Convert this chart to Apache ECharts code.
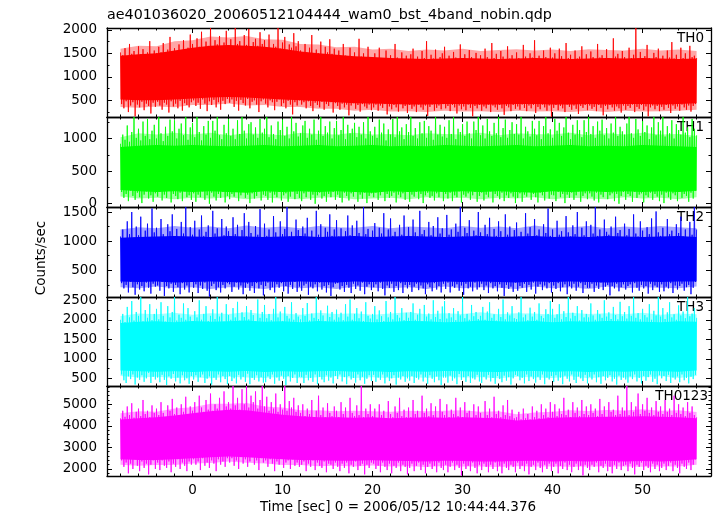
<!DOCTYPE html>
<html><head><meta charset="utf-8">
<script src="https://cdn.jsdelivr.net/npm/echarts@6/dist/echarts.min.js"></script>
<style>html,body{margin:0;padding:0;background:#fff}#c{width:717px;height:516px}</style>
</head><body><div id="c"></div>
<script>
// samples: upper/lower excursions every 0.25 s from -8 s; dense core and fringe envelopes every 2 s
const T_START = -8, SPIKE_STEP = 0.25, CORE_STEP = 2;

const th0Hi = [
1520,1460,1610,1430,1700,1490,1550,1440,1650,1480,1590,1420,1520,1760,1470,1560,
1500,1640,1520,1720,1480,1580,1850,1530,1610,1500,1690,1560,1780,1520,1620,1900,
1700,1590,1820,1640,1960,1610,1750,1660,2040,1620,1780,1690,1870,1600,1730,1980,
1650,1800,1630,2040,1700,1760,1640,1890,1680,2020,1620,1740,1810,1660,1950,1700,
1780,1620,1900,1590,1700,1640,2040,1600,1730,1850,1580,1690,1620,1930,1650,1760,
1560,1480,1700,1510,1620,1890,1470,1580,1500,1750,1460,1640,1520,1800,1490,1600,
1420,1560,1380,1700,1450,1390,1620,1400,1520,1360,1810,1430,1500,1380,1640,1420,
1380,1500,1350,1620,1400,1340,1560,1390,1460,1330,1700,1410,1360,1520,1380,1450,
1350,1480,1600,1370,1430,1340,1550,1400,1760,1360,1470,1390,1580,1350,1420,1500,
1640,1380,1450,1340,1530,1410,1360,1690,1400,1480,1350,1570,1420,1380,1510,1370,
1460,1350,1600,1420,1380,1720,1400,1490,1360,1550,1430,1370,1650,1390,1460,1340,
1520,1400,1380,1680,1430,1360,1500,1410,1780,1380,1450,1350,1560,1420,1390,1620,
1410,1500,1370,1600,1440,1360,1720,1400,1470,1350,1560,1390,1430,1650,1380,1480,
1360,1540,1420,1380,1700,1410,1460,1350,1590,1400,1380,1820,1430,1490,1370,1550,
1420,1380,1620,1400,1470,2040,1390,1530,1360,1440,1680,1400,1370,1510,1420,1600,
1380,1450,1360,1560,1410,1740,1390,1470,1350,1620,1400,1500,1380,1660,1420,1450,
1400];
const th0Lo = [
420,330,480,250,390,460,160,410,350,470,290,430,380,220,450,360,
470,390,300,450,410,240,480,370,430,330,490,280,440,400,350,460,
500,380,450,320,520,430,270,480,400,510,350,460,300,490,420,530,
450,520,360,490,280,510,440,390,530,330,470,500,410,250,480,520,
430,350,500,460,290,470,520,380,440,330,490,410,200,460,390,500,
410,460,330,480,380,270,450,400,350,470,300,420,380,460,240,440,
380,300,430,350,410,180,390,440,320,400,260,420,370,330,410,290,
350,410,280,390,340,420,200,370,310,400,350,260,420,330,380,230,
400,320,370,250,410,350,300,390,170,360,410,280,340,390,310,420,
330,380,270,400,350,220,390,310,370,290,410,340,160,380,330,400,
280,370,330,410,250,390,350,300,400,330,190,380,350,270,400,320,
370,300,410,340,270,390,330,400,230,360,310,410,350,280,390,150,
340,400,290,380,330,250,410,360,300,390,320,210,380,340,400,290,
390,320,360,270,400,340,180,380,310,400,350,280,370,330,240,390,
300,380,340,410,250,360,320,400,290,370,160,350,390,310,380,270,
360,300,400,340,230,390,320,370,280,410,350,300,390,260,380,420,
450];
const th0CoreHi = [1450,1480,1500,1560,1620,1660,1680,1660,1640,1600,1540,1500,1470,1440,1420,1400,1390,1380,1390,1400,1390,1380,1390,1400,1390,1380,1390,1400,1390,1400,1390,1380,1390];
const th0CoreLo = [520,500,500,520,540,560,570,560,540,520,500,480,460,440,430,420,410,410,420,420,410,410,420,420,410,410,420,410,420,420,410,420,440];
const th0FringeHi = [1600,1660,1650,1760,1780,1860,1840,1870,1800,1790,1700,1690,1630,1640,1580,1600,1550,1580,1560,1600,1550,1570,1590,1560,1580,1550,1590,1570,1560,1600,1560,1580,1550];
const th0FringeLo = [360,340,370,350,400,400,430,390,400,360,360,320,320,280,300,260,270,250,280,260,270,250,280,260,270,250,280,250,280,260,270,280,300];

const th1Hi = [
920,1060,980,1200,950,1100,1330,1010,1150,970,1260,1040,1300,990,1120,1210,
1000,1330,1080,960,1180,1040,1290,1110,1280,1000,1150,1230,1050,1330,980,1170,
1240,1020,1330,1100,970,1190,1060,1270,1010,1270,1120,1330,1050,990,1210,1080,
1300,1040,1150,990,1280,1070,1330,1120,1000,1220,1250,1060,1170,1010,1300,1090,
1150,1330,1020,1200,1070,990,1260,1130,1290,1040,1180,1000,1330,1110,1240,1030,
1080,1200,1270,1010,1150,1060,1290,980,1120,1330,1040,1190,1090,1260,1000,1160,
1270,1050,1130,1330,990,1210,1080,1150,1240,1020,1180,1060,1250,1000,1330,1110,
1040,1180,1010,1290,1090,1230,970,1140,1060,1300,1020,1330,1110,1170,990,1220,
1100,1330,1040,1160,1000,1250,1080,1270,1010,1190,1120,980,1330,1060,1210,1030,
1180,1010,1280,1070,1330,990,1150,1100,1220,1040,1260,1080,1000,1260,1130,1330,
1050,1200,1000,1300,1110,1040,1240,1080,1330,1020,1160,1290,1010,1130,1250,1070,
1220,1060,1330,1000,1180,1110,1030,1270,1150,1050,1270,990,1190,1330,1080,1140,
1010,1300,1120,1240,1040,1170,1330,1090,990,1210,1060,1280,1130,1020,1280,1100,
1330,1070,1190,1010,1260,1120,1290,1050,1160,1000,1230,1090,1330,1040,1180,1110,
1060,1230,1330,1080,1010,1300,1140,1040,1270,1100,1200,990,1170,1330,1050,1250,
1120,1330,1030,1190,1080,1280,1000,1220,1130,1060,1330,1090,1170,1020,1300,1150,
1050];
const th1Lo = [
180,90,150,40,200,120,60,170,100,10,140,190,80,130,30,160,
110,180,50,140,90,200,20,150,120,70,170,40,190,100,130,60,
160,30,140,100,190,60,130,0,170,110,50,150,90,180,20,120,
70,150,110,180,40,130,200,90,140,10,160,80,120,190,50,140,
120,60,170,20,140,100,180,50,130,160,30,110,190,70,150,90,
40,160,100,190,60,140,0,130,170,80,120,30,150,100,180,60,
140,90,20,170,120,50,160,110,190,30,140,80,170,10,120,160,
100,170,60,130,190,40,150,90,120,170,20,140,100,160,60,180,
30,140,110,180,70,150,10,130,170,90,120,50,160,100,190,40,
150,80,170,40,130,100,190,20,140,110,160,60,130,180,30,120,
170,50,140,100,190,20,150,120,70,170,40,130,90,160,110,10,
90,160,30,140,110,180,60,150,100,20,170,130,50,190,80,140,
130,40,180,100,150,10,140,90,170,60,130,190,30,120,160,70,
160,110,50,170,20,140,100,190,70,130,160,40,150,0,120,180,
60,150,120,30,180,90,140,160,20,130,100,170,60,150,110,40,
140,10,170,100,60,160,130,40,190,90,150,120,30,170,80,200,
200];
const th1CoreHi = [870,890,900,890,900,890,880,890,900,880,890,900,880,890,900,880,890,880,900,890,880,890,900,880,890,900,880,890,880,900,890,880,870];
const th1CoreLo = [210,190,180,190,180,190,180,170,190,180,190,180,190,180,170,190,180,190,180,190,180,190,180,170,190,180,190,180,190,180,190,180,200];
const th1FringeHi = [1020,1080,1060,1090,1060,1090,1050,1080,1070,1050,1090,1070,1060,1090,1060,1070,1050,1080,1070,1060,1090,1050,1080,1070,1060,1090,1050,1080,1060,1090,1060,1070,1040];
const th1FringeLo = [110,80,90,70,90,80,100,70,90,80,70,90,100,70,80,90,70,100,80,90,70,90,80,100,70,90,80,70,100,80,90,70,100];

const th2Hi = [
1080,1200,1050,1340,1120,1500,1060,1250,1100,1420,1040,1180,1300,1070,1560,1150,
1230,1060,1380,1120,1040,1290,1170,1460,1080,1210,1050,1330,1130,1586,1070,1240,
1110,1350,1050,1200,1440,1090,1160,1270,1040,1520,1130,1220,1060,1380,1100,1250,
1170,1060,1410,1120,1280,1050,1190,1480,1080,1330,1140,1040,1260,1110,1550,1070,
1300,1090,1200,1050,1430,1150,1060,1340,1120,1210,1586,1080,1160,1040,1370,1190,
1050,1250,1130,1400,1070,1180,1060,1520,1110,1290,1040,1230,1160,1460,1090,1200,
1360,1080,1220,1050,1170,1440,1100,1270,1060,1350,1140,1040,1586,1120,1210,1070,
1180,1310,1060,1230,1130,1480,1050,1200,1390,1090,1160,1040,1280,1110,1440,1070,
1240,1050,1370,1150,1080,1520,1120,1190,1060,1330,1100,1260,1040,1410,1130,1220,
1070,1450,1110,1200,1050,1300,1160,1586,1080,1230,1140,1360,1060,1180,1100,1500,
1150,1060,1280,1120,1400,1050,1210,1090,1340,1170,1040,1460,1110,1250,1070,1190,
1320,1080,1160,1050,1480,1130,1240,1060,1380,1100,1200,1050,1290,1140,1560,1090,
1200,1050,1350,1110,1170,1060,1430,1150,1080,1270,1120,1500,1040,1230,1100,1340,
1060,1280,1130,1586,1090,1200,1050,1370,1160,1110,1250,1070,1420,1140,1190,1050,
1300,1100,1210,1060,1460,1130,1080,1340,1180,1050,1240,1120,1390,1070,1510,1150,
1090,1230,1060,1380,1120,1180,1050,1290,1140,1420,1080,1200,1060,1330,1110,1586,
1200];
const th2Lo = [
280,190,250,120,300,210,80,260,170,230,140,290,200,100,270,220,
240,150,300,60,230,190,270,130,250,210,90,280,170,240,120,300,
200,260,110,240,180,290,150,50,230,270,160,210,120,250,190,280,
260,130,220,290,170,240,90,200,270,150,230,110,280,190,250,70,
230,290,160,210,120,260,200,280,140,230,100,250,180,300,130,220,
150,240,270,80,220,190,260,140,290,170,230,120,250,60,210,270,
280,170,230,130,250,200,110,270,180,240,150,290,90,220,260,160,
210,260,140,290,180,70,240,200,270,130,230,160,280,110,250,190,
250,130,220,270,160,240,190,90,260,210,140,280,170,230,120,270,
180,290,120,230,200,260,150,240,80,270,190,220,140,290,170,210,
270,160,240,110,280,190,230,140,260,200,60,250,180,220,130,290,
150,230,200,270,130,250,170,290,100,220,260,160,240,190,280,120,
240,180,280,140,210,260,90,230,190,270,150,220,280,110,250,200,
200,270,130,240,180,290,160,220,250,70,230,190,270,140,210,260,
170,230,260,120,280,200,150,250,190,230,100,270,160,240,210,130,
260,140,220,190,280,110,240,170,230,270,150,210,250,90,200,300,
280];
const th2CoreHi = [1060,1070,1080,1090,1080,1070,1090,1080,1070,1080,1090,1070,1080,1090,1070,1080,1090,1080,1070,1080,1090,1070,1080,1090,1070,1080,1070,1090,1080,1070,1080,1090,1070];
const th2CoreLo = [310,300,310,290,300,310,300,290,310,300,310,300,290,310,300,310,300,290,310,300,310,300,290,310,300,310,300,290,300,310,300,310,310];
const th2FringeHi = [1200,1240,1220,1260,1230,1250,1220,1270,1230,1250,1220,1260,1240,1230,1260,1220,1250,1240,1220,1260,1230,1250,1220,1270,1230,1240,1260,1220,1250,1230,1260,1240,1220];
const th2FringeLo = [210,190,220,190,210,180,210,200,180,220,190,210,180,220,200,190,210,180,220,190,210,200,180,220,190,210,180,220,190,210,200,190,220];

const th3Hi = [
2000,2150,1940,2330,2060,2480,1980,2200,2100,2584,1960,2250,2050,2400,1990,2150,
2280,2010,2450,2100,1950,2350,2060,2200,2584,1980,2130,2050,2420,2000,2300,2080,
1960,2220,2060,2500,2000,2150,2350,1970,2100,2270,2020,2584,2080,2180,1950,2400,
2120,2000,2300,2060,2460,1980,2190,2070,2350,2010,2250,2120,1960,2520,2050,2200,
2380,2040,2150,1990,2280,2584,2060,2210,1970,2330,2100,2030,2450,2000,2170,2080,
2010,2300,2100,2430,1980,2160,2050,2584,2020,2240,2110,1960,2360,2070,2200,2000,
2260,2060,2180,1990,2400,2080,2520,2000,2150,2300,2040,2210,1970,2450,2100,2030,
2150,2350,2010,2240,2090,1970,2480,2060,2200,2010,2584,2120,2050,2300,1990,2180,
2050,2200,2420,2000,2130,2280,1960,2380,2080,2160,2010,2500,2070,2230,2020,2340,
2480,2030,2170,2060,2300,1990,2220,2110,2584,2040,2150,2000,2380,2090,2200,2020,
2100,2330,2000,2210,2450,2050,2140,1980,2280,2070,2520,2010,2190,2110,2350,2040,
2020,2190,2584,2060,2130,1990,2310,2080,2200,2000,2420,2100,2040,2270,2150,2480,
2280,2050,2140,2400,2010,2220,2070,2584,2030,2180,2100,2350,1980,2250,2060,2150,
2060,2420,2110,2000,2250,2140,2050,2500,2080,2190,2020,2330,2120,2010,2460,2090,
2200,2030,2350,2100,2584,2050,2170,2010,2280,2120,2060,2400,2000,2230,2110,2584,
2080,2300,2020,2190,2450,2060,2140,2000,2370,2110,2210,2040,2584,2090,2160,2300,
2050];
const th3Lo = [
600,450,380,550,480,600,340,520,460,580,410,500,640,380,540,470,
520,400,590,460,330,550,490,610,420,520,370,580,450,500,360,560,
470,580,410,530,600,380,490,550,340,520,460,600,400,560,480,350,
560,430,500,370,590,470,540,410,620,350,510,460,580,420,530,390,
400,550,480,600,360,520,440,570,490,330,560,420,510,600,380,540,
530,380,590,450,510,410,600,350,540,470,400,580,440,520,370,560,
480,600,420,530,350,560,470,510,390,600,450,540,360,490,580,430,
590,410,520,460,600,370,540,430,500,580,340,520,470,560,410,500,
440,560,380,510,470,600,420,540,360,580,490,400,550,450,330,520,
520,390,570,440,500,350,610,460,530,410,560,380,500,470,590,420,
380,540,470,590,420,510,360,560,480,400,570,440,530,340,500,590,
560,450,510,370,600,430,550,480,390,540,460,600,350,520,470,560,
410,580,440,520,350,570,490,420,600,460,380,550,500,430,590,370,
540,470,600,400,530,360,560,450,510,580,420,490,340,570,460,520,
470,390,550,480,600,420,510,370,560,440,530,600,410,490,350,580,
500,560,430,590,380,520,470,550,400,600,450,510,370,540,480,590,
620];
const th3CoreHi = [1920,1950,1960,1940,1970,1950,1960,1980,1950,1960,1940,1970,1950,1960,1940,1950,1970,1960,1940,1950,1980,1960,1950,1970,1940,1960,1950,1970,1960,1950,1940,1960,1950];
const th3CoreLo = [700,680,670,680,660,680,670,690,660,680,670,680,690,670,680,660,680,670,690,680,670,660,680,690,670,680,660,680,670,690,680,670,700];
const th3FringeHi = [2100,2160,2140,2180,2130,2170,2150,2190,2140,2170,2130,2180,2150,2170,2130,2160,2190,2140,2170,2150,2190,2140,2170,2160,2130,2180,2150,2170,2140,2180,2130,2160,2140];
const th3FringeLo = [560,520,540,510,530,500,540,520,510,540,500,530,550,510,530,500,540,510,550,520,530,500,540,520,510,550,500,540,520,530,550,510,560];

const th0123Hi = [
4350,4700,4420,4900,4500,5050,4380,4650,4800,4450,5200,4550,4700,4400,4950,4600,
4800,4500,5100,4600,4400,4950,4700,5250,4550,4850,4450,5000,4650,5350,4500,4900,
4700,5100,4600,5400,4850,4650,5200,4750,5500,4700,5000,4800,5300,4650,5600,4900,
5100,4800,5849,4950,5300,4750,5700,5000,5849,4850,5400,5100,5600,4800,5200,5849,
4900,5350,4700,5100,4800,5500,4650,5000,4750,5849,4700,5150,4850,5300,4650,4950,
4600,5000,4450,4800,4550,5200,4400,4700,5400,4500,4850,4400,5050,4600,4450,4900,
4700,4400,5100,4550,4850,4350,5300,4600,4450,4950,4500,5849,4400,4800,4550,5000,
4450,4800,4350,5000,4500,4700,4300,5150,4550,4400,4900,4600,5300,4450,4750,4400,
4850,4400,5200,4550,4700,4350,5400,4600,4800,4450,5050,4500,4900,4350,5250,4650,
4500,5000,4400,4750,4550,5300,4450,4850,4400,5100,4600,4700,4350,5000,4500,4900,
4600,4350,5150,4500,4800,4400,5350,4550,4700,4400,4950,4500,5200,4450,4750,4350,
4400,4650,4300,4800,4350,4550,4300,4900,4400,4700,4350,5000,4500,4800,4400,5100,
4650,5000,4450,4800,4550,5300,4500,4750,4400,5100,4600,4850,4450,5200,4550,4900,
4500,5000,4600,4800,4450,5250,4550,4900,4400,5100,4650,4750,4500,5400,4550,4850,
4700,5849,4500,5100,4650,4900,5500,4550,5000,4700,5300,4600,4850,4500,5150,4650,
4900,4550,5200,4650,4800,4500,5400,4600,5000,4550,4850,4450,5100,4600,4900,4500,
4400];
const th0123Lo = [
2400,2100,2300,1800,2250,2000,2450,2150,1900,2350,2050,2250,1750,2200,2400,2000,
2300,1950,2400,2150,2050,2350,1850,2250,2100,2450,2000,2300,2150,1900,2350,2200,
2450,2200,2350,1950,2500,2150,2300,2050,2400,2250,1900,2450,2200,2350,2100,2500,
2300,2500,2150,2400,2000,2550,2250,2450,2100,2350,2550,2200,2400,1950,2500,2300,
2400,2100,2450,2250,1900,2350,2200,2500,2050,2300,2400,2000,2450,2150,2300,2100,
2200,2350,1900,2250,2100,2400,1950,2300,2150,2050,2350,1850,2250,2200,2000,2300,
2100,1900,2250,2050,2300,1800,2200,2100,2350,1950,2150,2250,1750,2200,2050,2300,
2250,2000,2150,1850,2300,2100,1950,2250,1800,2150,2050,2300,1900,2200,2100,1750,
2050,2250,1900,2150,2300,1950,2200,1800,2100,2250,2000,2150,1850,2300,2050,1950,
2200,1850,2100,2300,1950,2200,2050,1700,2250,2000,2150,1900,2300,2050,1800,2200,
1950,2250,2100,1850,2200,2000,2300,1900,2150,1800,2250,2050,1950,2200,2100,1850,
2300,2000,2150,1900,2250,1750,2100,2200,1950,2300,2050,1850,2200,2000,2250,1900,
2100,2250,1800,2150,2000,2300,1950,2200,1850,2100,2250,1950,2150,1700,2200,2050,
1950,2200,2100,2300,1850,2150,2050,2250,1900,2100,1800,2200,2000,2300,1950,2150,
2200,1900,2250,2050,1750,2200,2100,2300,1950,2150,2050,1850,2250,2000,2200,1900,
2050,2250,1950,2150,2300,1900,2200,2050,1800,2250,2100,2000,2300,1950,2200,2450,
2500];
const th0123CoreHi = [4300,4350,4400,4480,4580,4680,4750,4720,4620,4520,4450,4400,4400,4380,4400,4350,4380,4400,4380,4400,4380,4350,4250,4300,4380,4400,4400,4420,4420,4450,4420,4400,4350];
const th0123CoreLo = [2450,2420,2420,2450,2500,2550,2580,2550,2500,2450,2420,2400,2380,2380,2400,2380,2370,2350,2380,2370,2350,2350,2370,2380,2350,2370,2350,2380,2350,2370,2350,2380,2450];
const th0123FringeHi = [4580,4680,4660,4800,4860,5020,5020,5060,4900,4850,4730,4720,4680,4700,4680,4660,4700,4680,4700,4720,4660,4680,4540,4620,4660,4720,4690,4740,4710,4770,4700,4720,4640];
const th0123FringeLo = [2200,2150,2190,2180,2260,2280,2350,2290,2260,2180,2190,2130,2150,2110,2160,2120,2130,2090,2140,2110,2110,2090,2130,2120,2110,2100,2120,2110,2120,2100,2110,2120,2200];

// tick labels
const xMajorTicks = [0, 10, 20, 30, 40, 50];
const xMinorTicks = [-8,-6,-4,-2,2,4,6,8,12,14,16,18,22,24,26,28,32,34,36,38,42,44,46,48,52,54,56];
const th0Ticks = [500, 1000, 1500, 2000];
const th0MinorTicks = [250, 750, 1250, 1750];
const th1Ticks = [0, 500, 1000];
const th1MinorTicks = [250, 750, 1250];
const th2Ticks = [500, 1000, 1500];
const th2MinorTicks = [250, 750, 1250];
const th3Ticks = [500, 1000, 1500, 2000, 2500];
const th3MinorTicks = [750, 1250, 1750, 2250];
const th0123Ticks = [2000, 3000, 4000, 5000];
const th0123MinorTicks = [1800,2200,2400,2600,2800,3200,3400,3600,3800,4200,4400,4600,4800,5200,5400,5600,5800];

const panelNames = ['TH0', 'TH1', 'TH2', 'TH3', 'TH0123'];
const titleText = 'ae401036020_20060512104444_wam0_bst_4band_nobin.qdp';
const xTitle = 'Time [sec] 0 = 2006/05/12 10:44:44.376';
const yTitle = 'Counts/sec';

const panels = [
  {hi: th0Hi, lo: th0Lo, cHi: th0CoreHi, cLo: th0CoreLo, fHi: th0FringeHi, fLo: th0FringeLo, major: th0Ticks, minor: th0MinorTicks, min: 145, max: 2040, color: '#ff0000'},
  {hi: th1Hi, lo: th1Lo, cHi: th1CoreHi, cLo: th1CoreLo, fHi: th1FringeHi, fLo: th1FringeLo, major: th1Ticks, minor: th1MinorTicks, min: -50, max: 1330, color: '#00ff00'},
  {hi: th2Hi, lo: th2Lo, cHi: th2CoreHi, cLo: th2CoreLo, fHi: th2FringeHi, fLo: th2FringeLo, major: th2Ticks, minor: th2MinorTicks, min: 42, max: 1586, color: '#0000ff'},
  {hi: th3Hi, lo: th3Lo, cHi: th3CoreHi, cLo: th3CoreLo, fHi: th3FringeHi, fLo: th3FringeLo, major: th3Ticks, minor: th3MinorTicks, min: 303, max: 2584, color: '#00ffff'},
  {hi: th0123Hi, lo: th0123Lo, cHi: th0123CoreHi, cLo: th0123CoreLo, fHi: th0123FringeHi, fLo: th0123FringeLo, major: th0123Ticks, minor: th0123MinorTicks, min: 1675, max: 5849, color: '#ff00ff'}
];

const X_MIN = -9.5, X_MAX = 57.6;
const gridTops = [28, 117, 207, 297, 386];
const gridHeights = [89, 90, 90, 89, 90];
const FONT = 'DejaVu Sans';
const FS = 13.5;
const AXC = '#000';

const grids = [], xAxes = [], yAxes = [], series = [], graphics = [];
const plainLabel = v => String(v);

function mkX(g, pos, vals, len, showLine, labels) {
  return {
    type: 'value', gridIndex: g, position: pos, min: X_MIN, max: X_MAX,
    axisLine: {show: showLine, onZero: false, lineStyle: {color: AXC, width: 1.3}},
    axisTick: {show: true, inside: true, length: len, customValues: vals, lineStyle: {color: AXC, width: 1}},
    axisLabel: labels ? {show: true, customValues: vals, formatter: plainLabel, margin: 7, color: '#000', fontFamily: FONT, fontSize: FS} : {show: false},
    splitLine: {show: false}, minorTick: {show: false}
  };
}
function mkY(g, pos, p, vals, len, showLine, labels) {
  return {
    type: 'value', gridIndex: g, position: pos, min: p.min, max: p.max,
    axisLine: {show: showLine, onZero: false, lineStyle: {color: AXC, width: 1.3}},
    axisTick: {show: true, inside: true, length: len, customValues: vals, lineStyle: {color: AXC, width: 1}},
    axisLabel: labels ? {show: true, customValues: vals, formatter: plainLabel, margin: 10, color: '#000', fontFamily: FONT, fontSize: FS} : {show: false},
    splitLine: {show: false}, minorTick: {show: false}
  };
}

function bandSeries(xi, yi, upper, lower, color, opacity) {
  return {
    type: 'custom', xAxisIndex: xi, yAxisIndex: yi, silent: true, data: [[0, 0]],
    renderItem: (params, api) => {
      const pts = [];
      upper.forEach((v, k) => pts.push(api.coord([T_START + k * CORE_STEP, v])));
      for (let k = lower.length - 1; k >= 0; k--) pts.push(api.coord([T_START + k * CORE_STEP, lower[k]]));
      return {type: 'polygon', shape: {points: pts}, style: {fill: color, opacity: opacity}};
    }
  };
}

panels.forEach((p, g) => {
  grids.push({left: 107, right: 6, top: gridTops[g], height: gridHeights[g], containLabel: false, outerBoundsMode: 'none'});
  const xi = xAxes.length, yi = yAxes.length;
  xAxes.push(mkX(g, 'bottom', xMajorTicks, 5, true, g === panels.length - 1));
  xAxes.push(mkX(g, 'bottom', xMinorTicks, 2.5, false, false));
  xAxes.push(mkX(g, 'top', xMajorTicks, 5, true, false));
  xAxes.push(mkX(g, 'top', xMinorTicks, 2.5, false, false));
  yAxes.push(mkY(g, 'left', p, p.major, 5, true, true));
  yAxes.push(mkY(g, 'left', p, p.minor, 2.5, false, false));
  yAxes.push(mkY(g, 'right', p, p.major, 5, true, false));
  yAxes.push(mkY(g, 'right', p, p.minor, 2.5, false, false));

  series.push(bandSeries(xi, yi, p.fHi, p.fLo, p.color, 0.35));
  series.push(bandSeries(xi, yi, p.cHi, p.cLo, p.color, 1));

  const zig = [];
  p.hi.forEach((v, i) => {
    const t = T_START + i * SPIKE_STEP;
    zig.push([t, v]);
    if (i < p.hi.length - 1) zig.push([t + SPIKE_STEP / 2, p.lo[i]]);
  });
  series.push({type: 'line', xAxisIndex: xi, yAxisIndex: yi, data: zig, sampling: null,
    showSymbol: false, symbol: 'none', lineStyle: {width: 1, color: p.color, opacity: 0.85}, silent: true});

  graphics.push({type: 'text', x: g === 4 ? 708 : 704, y: gridTops[g] + 10,
    style: {text: panelNames[g], fontFamily: FONT, fontSize: FS, fill: '#000', align: 'right', verticalAlign: 'middle'}});
});

graphics.push({type: 'text', x: 107, y: 15,
  style: {text: titleText, fontFamily: FONT, fontSize: 14.3, fill: '#000', align: 'left', verticalAlign: 'middle'}});
graphics.push({type: 'text', x: 398, y: 507,
  style: {text: xTitle, fontFamily: FONT, fontSize: FS, fill: '#000', align: 'center', verticalAlign: 'middle'}});
graphics.push({type: 'text', x: 41, y: 258, rotation: Math.PI / 2,
  style: {text: yTitle, fontFamily: FONT, fontSize: FS, fill: '#000', align: 'center', verticalAlign: 'middle'}});

const chart = echarts.init(document.getElementById('c'), null, {renderer: 'canvas'});
chart.setOption({
  animation: false,
  backgroundColor: '#ffffff',
  grid: grids,
  xAxis: xAxes,
  yAxis: yAxes,
  series: series,
  graphic: graphics
});
</script>
</body></html>
